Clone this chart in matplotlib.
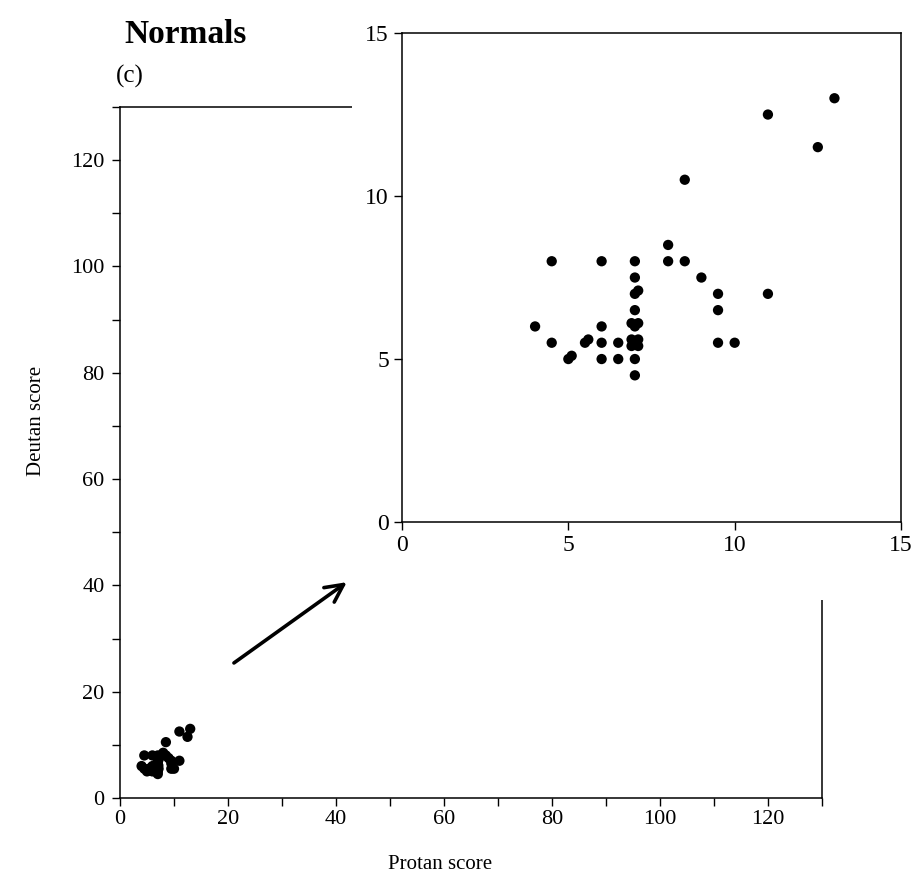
import matplotlib
matplotlib.use("Agg")
from matplotlib import pyplot as plt
from matplotlib.ticker import MultipleLocator

# Protan / Deutan scores of the normal observers
protan = [4.0, 4.5, 4.5, 5.0, 5.1, 5.5, 5.6, 6.0, 6.0, 6.0, 6.0, 6.5, 6.5,
          7.0, 7.0, 6.9, 7.1, 6.9, 7.1, 7.0, 6.9, 7.1, 7.0, 7.0, 7.1, 7.0, 7.0,
          8.0, 8.0, 8.5, 8.5, 9.0, 9.5, 9.5, 9.5, 10.0, 11.0, 11.0, 12.5, 13.0]
deutan = [6.0, 5.5, 8.0, 5.0, 5.1, 5.5, 5.6, 5.0, 5.5, 6.0, 8.0, 5.0, 5.5,
          4.5, 5.0, 5.4, 5.4, 5.6, 5.6, 6.0, 6.1, 6.1, 6.5, 7.0, 7.1, 7.5, 8.0,
          8.0, 8.5, 8.0, 10.5, 7.5, 5.5, 6.5, 7.0, 5.5, 7.0, 12.5, 11.5, 13.0]

main_ticks = [0, 20, 40, 60, 80, 100, 120]
inset_ticks = [0, 5, 10, 15]

plt.rcParams['font.family'] = ['Liberation Serif', 'DejaVu Serif']

fig = plt.figure(figsize=(9.16, 8.74), dpi=100)

# main axes, full range
ax = fig.add_axes([0.1310, 0.0870, 0.7664, 0.7906])
ax.scatter(protan, deutan, s=55, c='black', edgecolors='none', zorder=3)
ax.set_xlim(0, 130)
ax.set_ylim(0, 130)
ax.set_xticks(main_ticks)
ax.set_yticks(main_ticks)
ax.xaxis.set_minor_locator(MultipleLocator(10))
ax.yaxis.set_minor_locator(MultipleLocator(10))
ax.tick_params(which='both', direction='out', length=6, width=1, labelsize=16)
ax.tick_params(axis='x', pad=3)
ax.tick_params(axis='y', pad=5)
for s in ax.spines.values():
    s.set_linewidth(1.1)
ax.set_xlabel("Protan score", fontsize=15)
ax.set_ylabel("Deutan score", fontsize=15)
ax.xaxis.set_label_coords(0.456, -0.082)
ax.yaxis.set_label_coords(-0.106, 0.545)

ax.annotate("", xy=(42.0, 40.6), xytext=(21.1, 25.4),
            arrowprops=dict(arrowstyle='->', lw=2.6, color='black',
                            mutation_scale=32, shrinkA=0, shrinkB=0))

fig.text(0.136, 0.951, "Normals", fontsize=24, fontweight='bold', va='baseline')
fig.text(0.127, 0.906, "(c)", fontsize=18, va='baseline')

# white patch hiding the top-right part of the main frame
bg = fig.add_axes([0.3843, 0.3135, 0.6157, 0.6865])
bg.set_facecolor('white')
bg.set_xticks([])
bg.set_yticks([])
for s in bg.spines.values():
    s.set_visible(False)

# zoomed inset
ins = fig.add_axes([0.4389, 0.4027, 0.5447, 0.5595])
ins.scatter(protan, deutan, s=55, c='black', edgecolors='none', zorder=3)
ins.set_xlim(0, 15)
ins.set_ylim(0, 15)
ins.set_xticks(inset_ticks)
ins.set_yticks(inset_ticks)
ins.tick_params(direction='out', length=6, width=1, labelsize=17)
for s in ins.spines.values():
    s.set_linewidth(1.1)

fig.savefig("out.png", dpi=100)
